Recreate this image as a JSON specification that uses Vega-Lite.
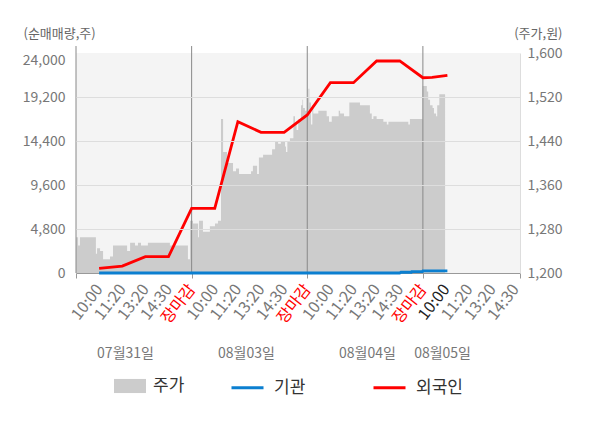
{
  "$schema": "https://vega.github.io/schema/vega-lite/v6.json",
  "autosize": {"type": "none"},
  "padding": {"left": 76, "top": 53, "right": 80, "bottom": 155},
  "width": 444,
  "height": 220,
  "config": {
    "font": "Noto Sans CJK KR",
    "view": {"fill": "#f4f4f4", "stroke": null},
    "axis": {"labelFont": "Noto Sans CJK KR", "titleFont": "Noto Sans CJK KR"},
    "legend": {"labelFont": "Noto Sans CJK KR"}
  },
  "datasets": {
    "price": [
      {"t": 0, "p": 1265}, {"t": 0.09, "p": 1250}, {"t": 0.17, "p": 1265}, {"t": 0.86, "p": 1235},
      {"t": 0.91, "p": 1245}, {"t": 1.04, "p": 1240}, {"t": 1.17, "p": 1225}, {"t": 1.47, "p": 1230},
      {"t": 1.6, "p": 1250}, {"t": 2.21, "p": 1240}, {"t": 2.34, "p": 1255}, {"t": 2.55, "p": 1250},
      {"t": 2.68, "p": 1255}, {"t": 2.81, "p": 1250}, {"t": 3.11, "p": 1255}, {"t": 4.06, "p": 1250},
      {"t": 4.84, "p": 1225}, {"t": 4.93, "p": 1295}, {"t": 5.06, "p": 1290}, {"t": 5.28, "p": 1265},
      {"t": 5.32, "p": 1295}, {"t": 5.49, "p": 1275}, {"t": 5.79, "p": 1285}, {"t": 6.01, "p": 1290},
      {"t": 6.14, "p": 1295}, {"t": 6.27, "p": 1480}, {"t": 6.36, "p": 1420}, {"t": 6.53, "p": 1410},
      {"t": 6.57, "p": 1400}, {"t": 6.79, "p": 1385}, {"t": 6.92, "p": 1390}, {"t": 7.05, "p": 1380},
      {"t": 7.57, "p": 1385}, {"t": 7.65, "p": 1395}, {"t": 7.83, "p": 1380}, {"t": 7.91, "p": 1410},
      {"t": 8.09, "p": 1415}, {"t": 8.48, "p": 1425}, {"t": 8.61, "p": 1440}, {"t": 8.74, "p": 1435},
      {"t": 8.86, "p": 1440}, {"t": 9.04, "p": 1430}, {"t": 9.08, "p": 1420}, {"t": 9.14, "p": 1440},
      {"t": 9.25, "p": 1445}, {"t": 9.4, "p": 1485}, {"t": 9.47, "p": 1470}, {"t": 9.54, "p": 1460},
      {"t": 9.61, "p": 1480}, {"t": 9.73, "p": 1505}, {"t": 9.79, "p": 1515}, {"t": 9.82, "p": 1500},
      {"t": 9.9, "p": 1495}, {"t": 9.98, "p": 1520}, {"t": 10.05, "p": 1535}, {"t": 10.09, "p": 1510},
      {"t": 10.16, "p": 1470}, {"t": 10.22, "p": 1505}, {"t": 10.26, "p": 1490}, {"t": 10.48, "p": 1495},
      {"t": 10.84, "p": 1485}, {"t": 10.94, "p": 1475}, {"t": 11.06, "p": 1485}, {"t": 11.36, "p": 1495},
      {"t": 11.42, "p": 1490}, {"t": 11.59, "p": 1485}, {"t": 11.82, "p": 1510}, {"t": 12.28, "p": 1505},
      {"t": 12.71, "p": 1490}, {"t": 12.79, "p": 1480}, {"t": 12.86, "p": 1485}, {"t": 13.0, "p": 1480},
      {"t": 13.29, "p": 1475}, {"t": 13.44, "p": 1470}, {"t": 13.51, "p": 1475}, {"t": 14.37, "p": 1470},
      {"t": 14.44, "p": 1480}, {"t": 14.99, "p": 1540}, {"t": 15.17, "p": 1530}, {"t": 15.23, "p": 1515},
      {"t": 15.31, "p": 1505}, {"t": 15.42, "p": 1500}, {"t": 15.48, "p": 1490}, {"t": 15.57, "p": 1485},
      {"t": 15.62, "p": 1505}, {"t": 15.71, "p": 1525}, {"t": 15.96, "p": 1525}
    ],
    "days": [{"t": 0}, {"t": 5}, {"t": 10}, {"t": 15}],
    "flows": [
      {"t": 1, "series": "기관", "v": 0}, {"t": 2, "series": "기관", "v": 0}, {"t": 3, "series": "기관", "v": 0},
      {"t": 4, "series": "기관", "v": 0}, {"t": 5, "series": "기관", "v": 0}, {"t": 6, "series": "기관", "v": 0},
      {"t": 7, "series": "기관", "v": 0}, {"t": 8, "series": "기관", "v": 0}, {"t": 9, "series": "기관", "v": 0},
      {"t": 10, "series": "기관", "v": 0}, {"t": 11, "series": "기관", "v": 0}, {"t": 12, "series": "기관", "v": 0},
      {"t": 13, "series": "기관", "v": 0}, {"t": 14, "series": "기관", "v": 0}, {"t": 14.05, "series": "기관", "v": 80},
      {"t": 14.5, "series": "기관", "v": 80}, {"t": 14.52, "series": "기관", "v": 160}, {"t": 14.98, "series": "기관", "v": 160},
      {"t": 15, "series": "기관", "v": 240}, {"t": 16.06, "series": "기관", "v": 240},
      {"t": 1, "series": "외국인", "v": 510}, {"t": 2, "series": "외국인", "v": 760}, {"t": 3, "series": "외국인", "v": 1780},
      {"t": 4, "series": "외국인", "v": 1780}, {"t": 5, "series": "외국인", "v": 7060}, {"t": 6, "series": "외국인", "v": 7060},
      {"t": 7, "series": "외국인", "v": 16500}, {"t": 8, "series": "외국인", "v": 15350}, {"t": 9, "series": "외국인", "v": 15350},
      {"t": 10, "series": "외국인", "v": 17240}, {"t": 11, "series": "외국인", "v": 20760}, {"t": 12, "series": "외국인", "v": 20760},
      {"t": 13, "series": "외국인", "v": 23130}, {"t": 14, "series": "외국인", "v": 23130}, {"t": 15, "series": "외국인", "v": 21300},
      {"t": 15.4, "series": "외국인", "v": 21350}, {"t": 16.06, "series": "외국인", "v": 21570}
    ]
  },
  "resolve": {
    "scale": {"y": "independent"},
    "axis": {"x": "independent", "y": "independent"}
  },
  "layer": [
    {
      "data": {"name": "price"},
      "mark": {"type": "area", "interpolate": "step-after"},
      "encoding": {
        "x": {
          "field": "t", "type": "quantitative",
          "scale": {"domain": [0, 19.2], "nice": false, "zero": false},
          "axis": {
            "orient": "bottom", "values": [1, 2, 3, 4, 5, 6, 7, 8, 9, 10, 11, 12, 13, 14, 15, 16, 17, 18, 19],
            "labelExpr": "['10:00','11:20','13:20','14:30','장마감'][(datum.value - 1) % 5]",
            "labelAngle": -52, "labelPadding": 13, "labelFontSize": 16,
            "labelColor": {"condition": [{"test": "datum.value % 5 === 0", "value": "#ff0000"}, {"test": "datum.value === 16", "value": "#222222"}], "value": "#777777"},
            "ticks": false, "domain": false, "grid": false, "title": null, "labelOverlap": false
          }
        },
        "y": {
          "field": "p", "type": "quantitative",
          "scale": {"domain": [1200, 1600], "nice": false, "zero": false},
          "axis": {
            "orient": "right", "values": [1200, 1280, 1360, 1440, 1520, 1600], "format": ",.0f",
            "labelPadding": 7, "labelFontSize": 14, "labelColor": "#777777",
            "ticks": false, "domain": true, "domainColor": "#dddddd", "grid": false,
            "title": "(주가,원)", "titleAngle": 0, "titleAlign": "right", "titleBaseline": "alphabetic",
            "titleX": 42, "titleY": -16, "titleFontSize": 13, "titleFontWeight": "normal", "titleColor": "#666666"
          }
        },
        "y2": {"datum": 1200},
        "fill": {
          "datum": "주가", "type": "nominal",
          "scale": {"range": ["#cccccc"]},
          "legend": {
            "orient": "none", "legendX": 38, "legendY": 317, "direction": "horizontal", "title": null,
            "symbolType": "M-1,-0.44H1V0.44H-1Z", "symbolSize": 1024, "symbolStrokeWidth": 0,
            "labelOffset": 7, "labelFontSize": 17, "labelColor": "#333333", "padding": 0
          }
        }
      }
    },
    {
      "data": {"name": "days"},
      "mark": {"type": "rule", "color": "#888888", "strokeWidth": 1},
      "encoding": {
        "x": {
          "field": "t", "type": "quantitative",
          "scale": {"domain": [0, 19.2], "nice": false, "zero": false},
          "axis": {
            "orient": "bottom", "values": [0, 5, 10, 15, 19.2], "labels": false,
            "ticks": true, "tickSize": 5, "tickColor": "#999999",
            "domain": true, "domainColor": "#999999", "grid": false, "title": null
          }
        },
        "y": {
          "datum": 0, "type": "quantitative",
          "scale": {"domain": [0, 24000], "nice": false},
          "axis": {
            "orient": "left", "values": [0, 4800, 9600, 14400, 19200, 24000], "format": ",.0f",
            "labelPadding": 11, "labelFontSize": 14, "labelColor": "#777777",
            "labelBaseline": {"condition": {"test": "datum.value === 24000", "value": "top"}, "value": "middle"},
            "ticks": false, "domain": false,
            "grid": true, "gridColor": {"condition": {"test": "datum.value === 0 || datum.value === 24000", "value": "rgba(0,0,0,0)"}, "value": "#dddddd"},
            "zindex": 1,
            "title": "(순매매량,주)", "titleAngle": 0, "titleAlign": "left", "titleBaseline": "alphabetic",
            "titleX": -53, "titleY": -16, "titleFontSize": 13, "titleFontWeight": "normal", "titleColor": "#666666"
          }
        },
        "y2": {"datum": 24760}
      }
    },
    {
      "data": {"name": "flows"},
      "mark": {"type": "line", "strokeWidth": 2.8},
      "encoding": {
        "x": {
          "field": "t", "type": "quantitative",
          "scale": {"domain": [0, 19.2], "nice": false, "zero": false},
          "axis": {
            "orient": "bottom", "values": [2.12, 7.35, 12.58, 15.83],
            "labelExpr": "datum.value < 5 ? '07월31일' : datum.value < 10 ? '08월03일' : datum.value < 15 ? '08월04일' : '08월05일'",
            "labelAngle": 0, "labelAlign": "center", "labelBaseline": "top",
            "offset": 70, "labelPadding": 3, "labelFontSize": 14, "labelColor": "#777777",
            "ticks": false, "domain": false, "grid": false, "title": null
          }
        },
        "y": {
          "field": "v", "type": "quantitative",
          "scale": {"domain": [0, 24000], "nice": false},
          "axis": null
        },
        "stroke": {
          "field": "series", "type": "nominal",
          "scale": {"domain": ["기관", "외국인"], "range": ["#0b7fd0", "#ff0000"]},
          "legend": {
            "orient": "none", "legendX": 154, "legendY": 317, "direction": "horizontal", "title": null,
            "symbolType": "stroke", "symbolSize": 1024, "symbolStrokeWidth": 3,
            "labelOffset": 9, "labelFontSize": 17, "labelColor": "#333333",
            "columnPadding": 61, "padding": 0
          }
        }
      }
    }
  ]
}
